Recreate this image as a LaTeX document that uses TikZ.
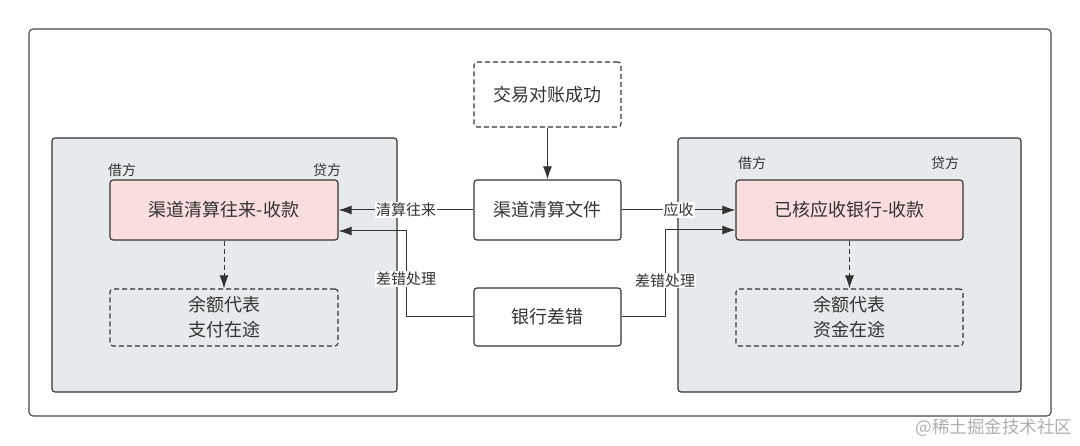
\documentclass[tikz,border=0pt]{standalone}
\usepackage{fontspec}
\setmainfont{Noto Sans CJK SC}
\usepackage{tikz}
\usetikzlibrary{arrows.meta}
\definecolor{edgegray}{RGB}{51,51,51}
\definecolor{panelgray}{RGB}{230,234,236}
\definecolor{entrypink}{RGB}{250,221,221}
\definecolor{markgray}{RGB}{175,175,175}

\begin{document}
\begin{tikzpicture}[x=1pt,y=-1pt,
    font=\fontsize{18}{25}\selectfont,
    every node/.style={text=edgegray},
    box/.style={draw=edgegray,line width=1.1pt,rounded corners=3pt,align=center,inner sep=0pt},
    entry/.style={box,fill=entrypink},
    note/.style={box,dash pattern=on 5pt off 3pt},
    panel/.style={draw=edgegray,line width=1.1pt,rounded corners=3pt,fill=panelgray},
    side/.style={font=\fontsize{14}{16}\selectfont},
    lbl/.style={font=\fontsize{15}{16}\selectfont,fill=white,inner sep=1pt},
    arr/.style={draw=edgegray,line width=1pt,-{Latex[length=13pt,width=9pt]}},
    darr/.style={arr,dash pattern=on 5pt off 3pt}]
            \useasboundingbox (0,0) rectangle (1080,446);
            \draw [draw=edgegray!90,line width=1.1pt,rounded corners=4pt] (29,29) rectangle (1051,416);
            \draw [panel] (52,138) rectangle (397,392);
            \draw [panel] (678,138) rectangle (1021,392);
            % left account
            \node [side] (ldebit) at (122,170) {借方};
            \node [side] (lcredit) at (327,170) {贷方};
            \node [entry,minimum width=228pt,minimum height=60pt] (lpink) at (224,210) {渠道清算往来-收款};
            \node [note,minimum width=228pt,minimum height=57pt] (lnote) at (224,317.5) {余额代表\\支付在途};
            % middle
            \node [note,minimum width=147pt,minimum height=65pt] (success) at (547.5,94.5) {交易对账成功};
            \node [box,minimum width=147pt,minimum height=60pt] (file) at (547.5,210) {渠道清算文件};
            \node [box,minimum width=147pt,minimum height=58pt] (bankerr) at (547.5,317) {银行差错};
            % right account
            \node [side] (rdebit) at (752,163) {借方};
            \node [side] (rcredit) at (945,163) {贷方};
            \node [entry,minimum width=227pt,minimum height=60pt] (rpink) at (849.5,210) {已核应收银行-收款};
            \node [note,minimum width=227pt,minimum height=57pt] (rnote) at (849.5,317.5) {余额代表\\资金在途};
            \coordinate (ljog) at (406,231);
            \coordinate (rjog) at (665,230);

            \draw [arr] (success) -- (file);
            \draw [arr] (file.west) -- node [lbl] {清算往来} (lpink.east);
            \draw [arr] (file.east) -- node [lbl] {应收} (rpink.west);
            \draw [arr] (bankerr.west) -| node [lbl,pos=0.72] {差错处理} (ljog) -- (lpink.east |- ljog);
            \draw [arr] (bankerr.east) -| node [lbl,pos=0.71] {差错处理} (rjog) -- (rpink.west |- rjog);
            \draw [darr] (lpink) -- (lnote);
            \draw [darr] (rpink) -- (rnote);

            \node [text=markgray,font=\fontsize{17.5}{20}\selectfont,anchor=east] (mark) at (1076,428) {@稀土掘金技术社区};
        \end{tikzpicture}
\end{document}
